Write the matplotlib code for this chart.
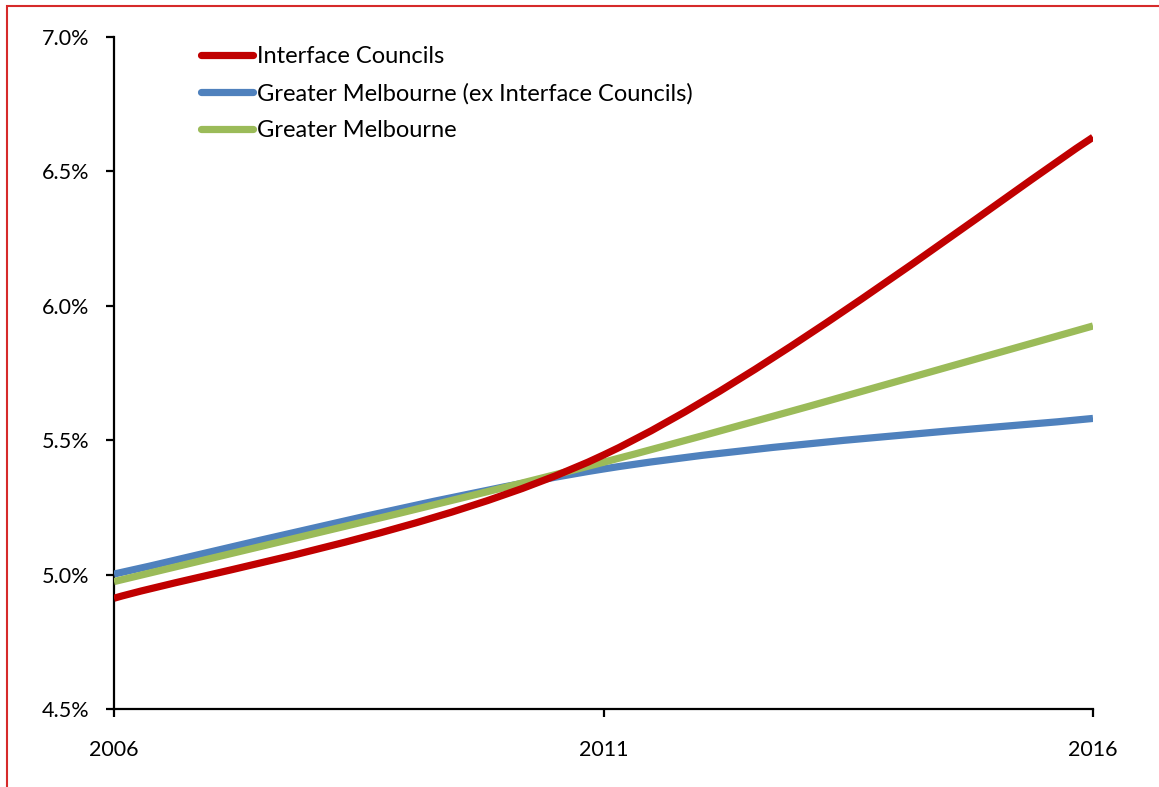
import matplotlib
matplotlib.use("Agg")
import matplotlib.pyplot as plt
from matplotlib.path import Path
from matplotlib.patches import PathPatch, Rectangle
from matplotlib.lines import Line2D
from matplotlib.ticker import FuncFormatter

plt.rcParams['font.family'] = ['Lato', 'DejaVu Sans']

years = [2006, 2011, 2016]
interface_councils = [4.912, 5.445, 6.627]
melbourne_ex_interface = [5.002, 5.393, 5.581]
greater_melbourne = [4.974, 5.418, 5.925]

series_labels = ["Interface Councils",
                 "Greater Melbourne (ex Interface Councils)",
                 "Greater Melbourne"]
series_colors = ["#C00000", "#4F81BD", "#9BBB59"]
y_ticks = [4.5, 5.0, 5.5, 6.0, 6.5, 7.0]


def smooth_path(xs, ys):
    """Cubic Bezier path through the points (Catmull-Rom style tangents)."""
    pts = list(zip(xs, ys))
    n = len(pts)
    verts = [pts[0]]
    codes = [Path.MOVETO]
    for i in range(n - 1):
        p0 = pts[max(i - 1, 0)]
        p1 = pts[i]
        p2 = pts[i + 1]
        p3 = pts[min(i + 2, n - 1)]
        c1 = (p1[0] + (p2[0] - p0[0]) / 6.0, p1[1] + (p2[1] - p0[1]) / 6.0)
        c2 = (p2[0] - (p3[0] - p1[0]) / 6.0, p2[1] - (p3[1] - p1[1]) / 6.0)
        verts += [c1, c2, p2]
        codes += [Path.CURVE4] * 3
    return Path(verts, codes)


fig = plt.figure(figsize=(11.59, 7.87), dpi=100)
ax = fig.add_axes([114 / 1159, 1 - 709 / 787, (1093 - 114) / 1159, (709 - 37) / 787])

# draw order: blue, green, red on top
for vals, col, z in [(melbourne_ex_interface, series_colors[1], 3),
                     (greater_melbourne, series_colors[2], 4),
                     (interface_councils, series_colors[0], 5)]:
    patch = PathPatch(smooth_path(years, vals), facecolor='none', edgecolor=col,
                      linewidth=5.2, capstyle='butt', joinstyle='round', zorder=z)
    ax.add_patch(patch)

ax.set_xlim(2006, 2016)
ax.set_ylim(4.5, 7.0)
ax.set_xticks(years)
ax.set_yticks(y_ticks)
ax.yaxis.set_major_formatter(FuncFormatter(lambda v, p: f"{v:.1f}%"))

for side in ['top', 'right']:
    ax.spines[side].set_visible(False)
for side in ['left', 'bottom']:
    ax.spines[side].set_linewidth(1.6)
    ax.spines[side].set_color('black')

ax.tick_params(axis='y', direction='out', length=6, width=1.6, pad=12, labelsize=15.5)
ax.tick_params(axis='x', direction='out', length=6, width=1.6, pad=16, labelsize=15.5)

handles = [Line2D([], [], color=c, linewidth=5.2, solid_capstyle='round') for c in series_colors]
fig.legend(handles, series_labels, loc='upper left',
           bbox_to_anchor=(201 / 1159, 1 - 46 / 787), frameon=False,
           fontsize=17, handlelength=2.2, handletextpad=0.17,
           labelspacing=0.67, borderaxespad=0, borderpad=0)

# outer red frame
fig.patches.append(Rectangle((7 / 1159, -0.1), 1.2, 1 - 6 / 787 + 0.1,
                             transform=fig.transFigure, fill=False,
                             edgecolor='#D62A2A', linewidth=1.5))

fig.savefig("out.png", dpi=100)
